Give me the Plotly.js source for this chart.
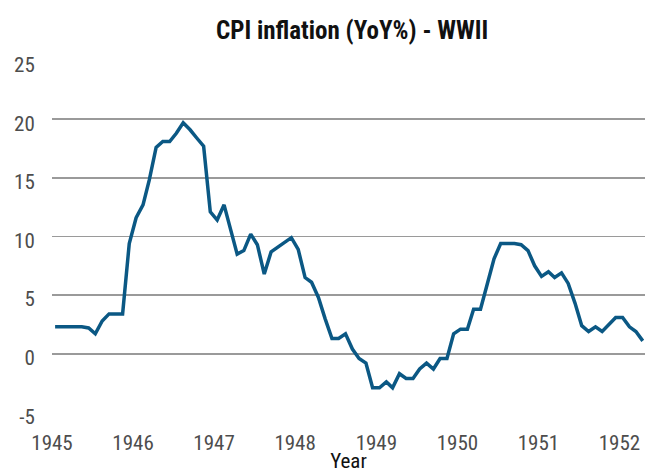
<!DOCTYPE html>
<html>
<head>
<meta charset="utf-8">
<script src="https://cdn.plot.ly/plotly-3.0.1.min.js"></script>
<style>
  html, body { margin: 0; padding: 0; background: #fff; }
  #chart { width: 645px; height: 473px; }
</style>
</head>
<body>
<div id="chart"></div>
<script>
// Monthly observations (mid-month)
const months = [
  '1945-01-15','1945-02-15','1945-03-15','1945-04-15','1945-05-15','1945-06-15','1945-07-15','1945-08-15','1945-09-15','1945-10-15','1945-11-15','1945-12-15',
  '1946-01-15','1946-02-15','1946-03-15','1946-04-15','1946-05-15','1946-06-15','1946-07-15','1946-08-15','1946-09-15','1946-10-15','1946-11-15','1946-12-15',
  '1947-01-15','1947-02-15','1947-03-15','1947-04-15','1947-05-15','1947-06-15','1947-07-15','1947-08-15','1947-09-15','1947-10-15','1947-11-15','1947-12-15',
  '1948-01-15','1948-02-15','1948-03-15','1948-04-15','1948-05-15','1948-06-15','1948-07-15','1948-08-15','1948-09-15','1948-10-15','1948-11-15','1948-12-15',
  '1949-01-15','1949-02-15','1949-03-15','1949-04-15','1949-05-15','1949-06-15','1949-07-15','1949-08-15','1949-09-15','1949-10-15','1949-11-15','1949-12-15',
  '1950-01-15','1950-02-15','1950-03-15','1950-04-15','1950-05-15','1950-06-15','1950-07-15','1950-08-15','1950-09-15','1950-10-15','1950-11-15','1950-12-15',
  '1951-01-15','1951-02-15','1951-03-15','1951-04-15','1951-05-15','1951-06-15','1951-07-15','1951-08-15','1951-09-15','1951-10-15','1951-11-15','1951-12-15',
  '1952-01-15','1952-02-15','1952-03-15','1952-04-15'
];
const cpiYoY = [
  2.3, 2.3, 2.3, 2.3, 2.3, 2.2, 1.7, 2.8, 3.4, 3.4, 3.4, 9.4,
  11.6, 12.7, 14.8, 17.6, 18.1, 18.1, 18.8, 19.7, 19.1, 18.4, 17.7, 12.1,
  11.4, 12.7, 10.6, 8.5, 8.8, 10.2, 9.3, 6.8, 8.7, 9.1, 9.5, 9.9,
  8.9, 6.5, 6.1, 4.8, 3.0, 1.3, 1.3, 1.7, 0.4, -0.4, -0.8, -2.9,
  -2.9, -2.4, -2.9, -1.7, -2.1, -2.1, -1.3, -0.8, -1.3, -0.4, -0.4, 1.7,
  2.1, 2.1, 3.8, 3.8, 5.9, 8.1, 9.4, 9.4, 9.4, 9.3, 8.8, 7.5,
  6.6, 7.0, 6.5, 6.9, 6.0, 4.3, 2.4, 1.9, 2.3, 1.9, 2.5, 3.1,
  3.1, 2.3, 1.9, 1.1
];
const tickDates = ['1945-01-01','1946-01-01','1947-01-01','1948-01-01','1949-01-01','1950-01-01','1951-01-01','1952-01-01'];
const tickYears = ['1945','1946','1947','1948','1949','1950','1951','1952'];
const yTicks = [-5, 0, 5, 10, 15, 20, 25];

const FONT = 'Liberation Sans Narrow, Roboto Condensed, Roboto, sans-serif';

const trace = {
  x: months,
  y: cpiYoY,
  type: 'scatter',
  mode: 'lines',
  line: { color: '#0b5884', width: 3.5, shape: 'linear' },
  hoverinfo: 'x+y'
};

const layout = {
  width: 645,
  height: 473,
  margin: { l: 52, r: 0, t: 60, b: 60 },
  paper_bgcolor: '#ffffff',
  plot_bgcolor: '#ffffff',
  showlegend: false,
  font: { family: FONT, color: '#4d4d4d', size: 21 },
  title: {
    text: '<b>CPI inflation (YoY%) - WWII</b>',
    font: { family: FONT, size: 25, color: '#111111' },
    x: 0.506, xref: 'paper', xanchor: 'center',
    y: 26, yref: 'container', yanchor: 'middle'
  },
  xaxis: {
    type: 'date',
    range: ['1945-01-01', '1952-04-25'],
    tickmode: 'array',
    tickvals: tickDates,
    ticktext: tickYears,
    showgrid: false,
    zeroline: false,
    showline: false,
    ticks: 'outside',
    ticklen: 11,
    tickcolor: 'rgba(0,0,0,0)',
    tickfont: { family: FONT, size: 21, color: '#4d4d4d' },
    title: { text: 'Year', font: { family: FONT, size: 21, color: '#111111' }, standoff: 6 }
  },
  yaxis: {
    range: [-5.05, 25.05],
    tickmode: 'array',
    tickvals: yTicks,
    ticktext: yTicks.map(String),
    showgrid: true,
    gridcolor: '#9a9a9a',
    gridwidth: 1.5,
    zeroline: false,
    showline: false,
    ticks: 'outside',
    ticklen: 12,
    tickcolor: 'rgba(0,0,0,0)',
    ticklabelshift: 4,
    tickfont: { family: FONT, size: 21, color: '#4d4d4d' }
  }
};

Plotly.newPlot('chart', [trace], layout, { displayModeBar: false, staticPlot: true });
</script>
</body>
</html>
